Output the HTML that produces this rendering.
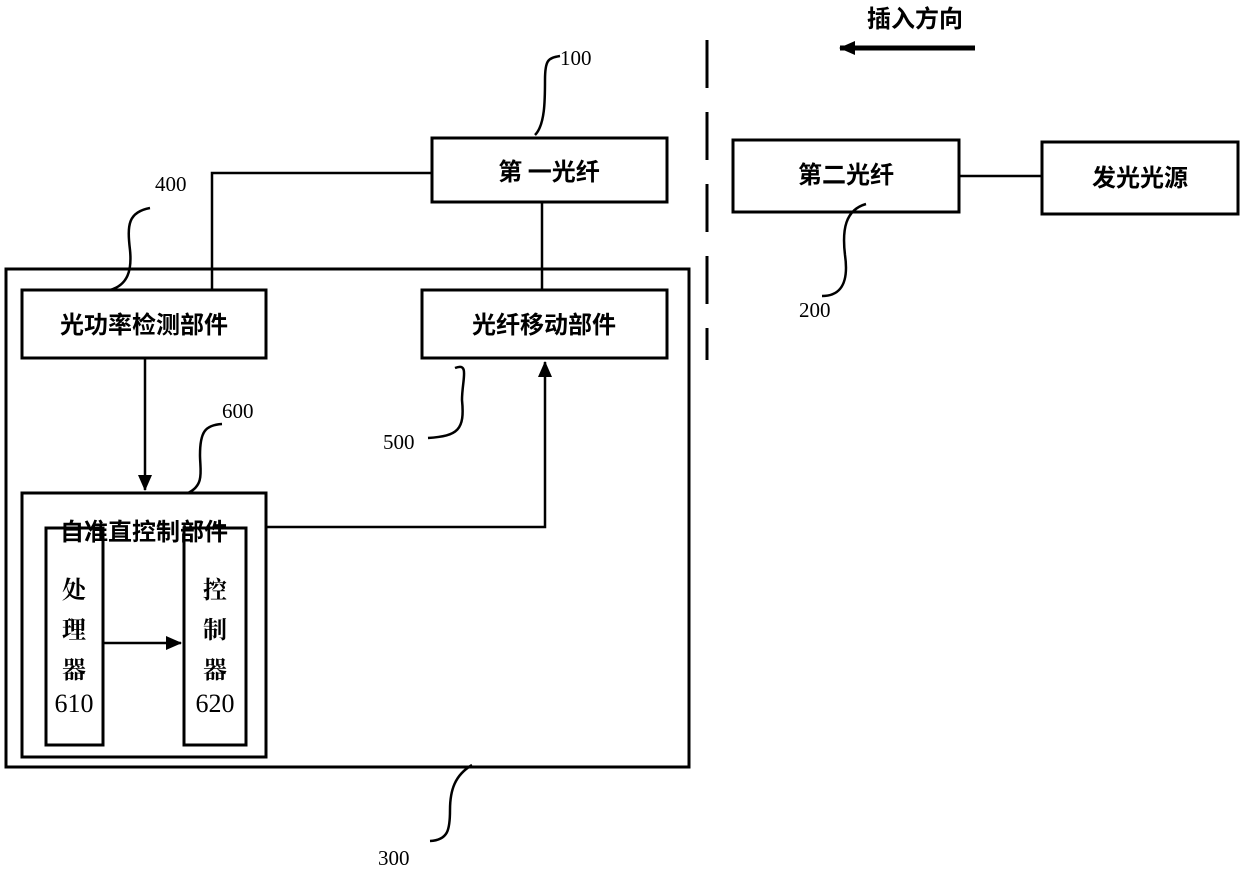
<!DOCTYPE html>
<html><head><meta charset="utf-8"><style>
body{margin:0;background:#fff}
svg text{font-family:"Liberation Serif","Noto Serif CJK SC",serif;fill:#000}
.c{font-size:24px;font-weight:bold;font-family:"Noto Sans CJK SC","Liberation Sans",sans-serif}
.n{font-size:21px}
</style></head><body>
<svg width="1240" height="869" viewBox="0 0 1240 869" xmlns="http://www.w3.org/2000/svg">
<defs><marker id="a" markerWidth="10" markerHeight="10" refX="9" refY="5" orient="auto" markerUnits="userSpaceOnUse"><path d="M0,0 L10,5 L0,10 z" fill="#000"/></marker>
<marker id="b" markerWidth="16" markerHeight="14" refX="15" refY="7" orient="auto" markerUnits="userSpaceOnUse"><path d="M0,0 L16,7 L0,14 z" fill="#000"/></marker></defs>
<g fill="none" stroke="#000" stroke-width="3">
<rect x="6" y="269" width="683" height="498"/>
<rect x="432" y="138" width="235" height="64"/>
<rect x="733" y="140" width="226" height="72"/>
<rect x="1042" y="142" width="196" height="72"/>
<rect x="22" y="290" width="244" height="68"/>
<rect x="422" y="290" width="245" height="68"/>
<rect x="22" y="493" width="244" height="264"/>
<rect x="46" y="528" width="57" height="217"/>
<rect x="184" y="528" width="62" height="217"/>
</g>
<g fill="none" stroke="#000" stroke-width="2.5">
<polyline points="432,173 212,173 212,290"/>
<line x1="542" y1="202" x2="542" y2="290"/>
<line x1="959" y1="176" x2="1042" y2="176"/>
<line x1="145" y1="358" x2="145" y2="490" marker-end="url(#b)"/>
<polyline points="266,527 545,527 545,362" marker-end="url(#b)"/>
<line x1="103" y1="643" x2="181" y2="643" marker-end="url(#b)"/>
<line x1="975" y1="48" x2="840" y2="48" stroke-width="5" marker-end="url(#b)"/>
<line x1="707" y1="40" x2="707" y2="360" stroke-width="3" stroke-dasharray="48,24"/>
<path d="M535,135 C545,125 545,100 545,80 C545,60 548,58 560,56"/>
<path d="M110,290 C128,285 132,270 130,250 C127,225 128,212 150,208"/>
<path d="M188,493 C205,485 200,470 200,455 C200,432 205,425 222,424"/>
<path d="M455,368 C470,362 462,380 462,400 C465,430 458,436 428,438"/>
<path d="M866,204 C845,210 842,230 845,255 C850,290 835,296 822,296"/>
<path d="M472,765 C455,775 450,790 450,810 C450,830 448,840 430,841"/>
</g>
<text class="c" x="549" y="180" text-anchor="middle">第 一光纤</text>
<text class="c" x="846" y="183" text-anchor="middle">第二光纤</text>
<text class="c" x="1140" y="186" text-anchor="middle">发光光源</text>
<text class="c" x="144" y="333" text-anchor="middle">光功率检测部件</text>
<text class="c" x="544" y="333" text-anchor="middle">光纤移动部件</text>
<text class="c" x="144" y="540" text-anchor="middle">自准直控制部件</text>
<text class="c" x="915" y="27" text-anchor="middle">插入方向</text>
<g class="c" text-anchor="middle">
<text x="74" y="598">处</text><text x="74" y="638">理</text><text x="74" y="678">器</text>
<text x="215" y="598">控</text><text x="215" y="638">制</text><text x="215" y="678">器</text>
</g>
<text x="74" y="712" text-anchor="middle" style="font-size:26px">610</text>
<text x="215" y="712" text-anchor="middle" style="font-size:26px">620</text>
<text class="n" x="560" y="65">100</text>
<text class="n" x="155" y="191">400</text>
<text class="n" x="222" y="418">600</text>
<text class="n" x="383" y="449">500</text>
<text class="n" x="799" y="317">200</text>
<text class="n" x="378" y="865">300</text>
</svg>
</body></html>
